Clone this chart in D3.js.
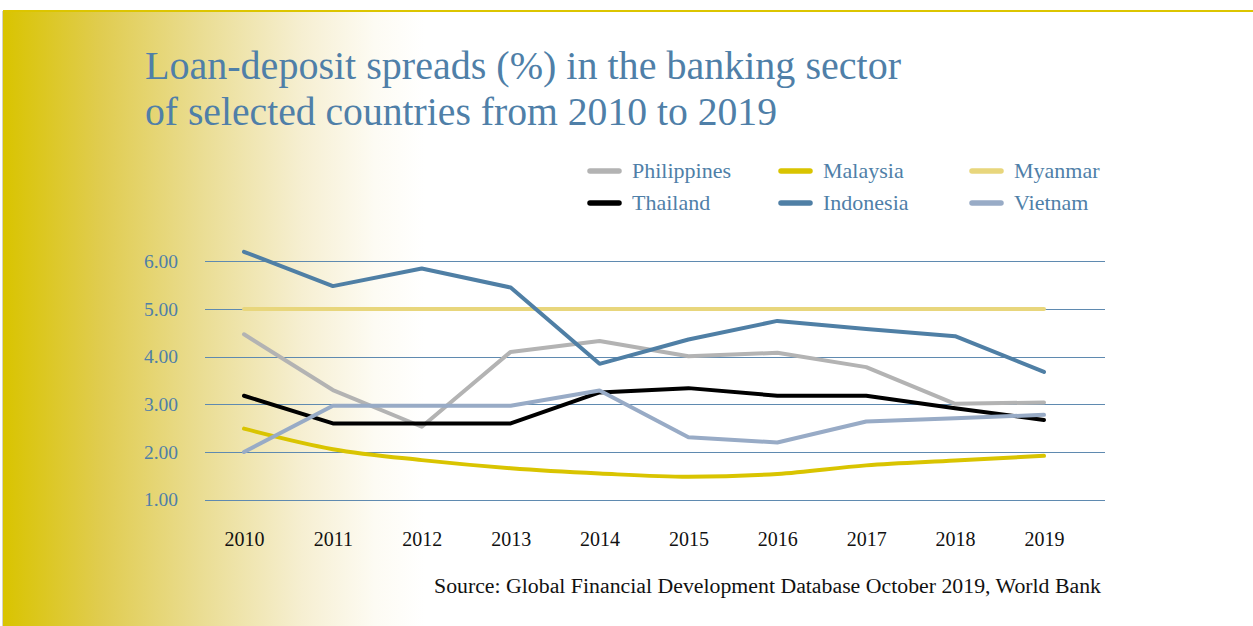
<!DOCTYPE html>
<html>
<head>
<meta charset="utf-8">
<script src="https://cdn.jsdelivr.net/npm/d3@7"></script>
<style>
  html, body { margin: 0; padding: 0; background: #ffffff; }
  svg { display: block; }
</style>
</head>
<body>
<svg id="chart" width="1253" height="626"></svg>
<script>
// Years on the horizontal axis
const years = [2010, 2011, 2012, 2013, 2014, 2015, 2016, 2017, 2018, 2019];

// Loan-deposit spread (%) per country
const philippines = [4.47, 3.30, 2.53, 4.10, 4.33, 4.01, 4.08, 3.78, 3.01, 3.04];
const malaysia    = [2.49, 2.06, 1.83, 1.66, 1.55, 1.48, 1.54, 1.72, 1.82, 1.92];
const myanmar     = [5.00, 5.00, 5.00, 5.00, 5.00, 5.00, 5.00, 5.00, 5.00, 5.00];
const thailand    = [3.18, 2.60, 2.60, 2.60, 3.25, 3.34, 3.18, 3.18, 2.92, 2.67];
const indonesia   = [6.20, 5.48, 5.85, 5.45, 3.85, 4.36, 4.75, 4.58, 4.43, 3.68];
const vietnam     = [2.00, 2.97, 2.97, 2.97, 3.29, 2.31, 2.20, 2.64, 2.71, 2.78];

const seriesNames = ["Philippines", "Malaysia", "Myanmar", "Thailand", "Indonesia", "Vietnam"];
const seriesValues = [philippines, malaysia, myanmar, thailand, indonesia, vietnam];

const yTicks = [1, 2, 3, 4, 5, 6];

const titleLines = [
  "Loan-deposit spreads (%) in the banking sector",
  "of selected countries from 2010 to 2019"
];
const sourceText = "Source: Global Financial Development Database October 2019, World Bank";

// Styling
const colors = {
  Philippines: "#b3b3b3",
  Malaysia: "#d9c400",
  Myanmar: "#e8d67c",
  Thailand: "#000000",
  Indonesia: "#4f7fa5",
  Vietnam: "#98abc6"
};
const blueText = "#4f7fa8";
const serif = "'Liberation Serif', 'Times New Roman', serif";

const svg = d3.select("#chart");

// Panel background: yellow fading to white from the left edge
const defs = svg.append("defs");
const grad = defs.append("linearGradient")
  .attr("id", "panelFade")
  .attr("gradientUnits", "userSpaceOnUse")
  .attr("x1", 3).attr("y1", 0).attr("x2", 425).attr("y2", 0);
[[0, "#d9c400"], [0.23, "#e0cc4f"], [0.47, "#eadd93"], [0.71, "#f6efd2"], [0.88, "#fdfbf3"], [1, "#ffffff"]]
  .forEach(([o, c]) => grad.append("stop").attr("offset", o).attr("stop-color", c));

svg.append("rect")
  .attr("x", 3).attr("y", 11)
  .attr("width", 1250).attr("height", 615)
  .attr("fill", "url(#panelFade)");

// thin edge on the panel's left side
svg.append("line")
  .attr("x1", 2.5).attr("x2", 2.5)
  .attr("y1", 11).attr("y2", 626)
  .attr("stroke", "#d6d3c4").attr("stroke-width", 1);

svg.append("line")
  .attr("x1", 3).attr("x2", 1253)
  .attr("y1", 11).attr("y2", 11)
  .attr("stroke", "#dcc500").attr("stroke-width", 2);

// Title
const title = svg.append("g");
titleLines.forEach((t, i) => {
  title.append("text")
    .attr("x", 145).attr("y", 79 + i * 46)
    .attr("font-family", serif)
    .attr("font-size", 40)
    .attr("fill", blueText)
    .attr("textLength", i === 0 ? 756 : 632)
    .attr("lengthAdjust", "spacingAndGlyphs")
    .text(t);
});

// Scales
const x = d3.scalePoint().domain(years).range([244, 1044]);
const y = d3.scaleLinear().domain([1, 6]).range([499.7, 261.3]);

const gridLeft = 205, gridRight = 1105;

// Horizontal gridlines with value labels
const yAxis = svg.append("g")
  .attr("transform", `translate(${gridLeft},0)`)
  .call(d3.axisLeft(y)
    .tickValues(yTicks)
    .tickSize(-(gridRight - gridLeft))
    .tickPadding(27)
    .tickFormat(d3.format(".2f")));
yAxis.select(".domain").remove();
yAxis.selectAll(".tick line")
  .attr("stroke", "#5f8ab0")
  .attr("stroke-width", 1)
  .attr("shape-rendering", "crispEdges");
yAxis.selectAll(".tick text")
  .attr("font-family", serif)
  .attr("font-size", 19.5)
  .attr("fill", blueText);

// Year labels
const xAxis = svg.append("g")
  .attr("transform", "translate(0,520)")
  .call(d3.axisBottom(x).tickSize(0).tickPadding(0));
xAxis.select(".domain").remove();
xAxis.selectAll(".tick text")
  .attr("font-family", serif)
  .attr("font-size", 20)
  .attr("fill", "#111111")
  .attr("dy", 0)
  .attr("y", 25.5);

// Series lines
const series = seriesNames.map((name, i) => ({ name, values: seriesValues[i] }));
const drawOrder = ["Philippines", "Thailand", "Malaysia", "Vietnam", "Myanmar", "Indonesia"];

const lines = svg.append("g");
drawOrder.forEach(name => {
  const s = series.find(d => d.name === name);
  const line = d3.line()
    .x((d, i) => x(years[i]))
    .y(d => y(d))
    .curve(name === "Malaysia" ? d3.curveMonotoneX : d3.curveLinear);
  lines.append("path")
    .datum(s.values)
    .attr("d", line)
    .attr("fill", "none")
    .attr("stroke", colors[name])
    .attr("stroke-width", 4)
    .attr("stroke-linejoin", "round")
    .attr("stroke-linecap", "round");
});

// Legend: three columns, two rows
const legendCols = [587, 778, 969];
const legendRows = [171, 203];
const legend = svg.append("g");
series.forEach((s, i) => {
  const cx = legendCols[i % 3];
  const cy = legendRows[Math.floor(i / 3)];
  legend.append("line")
    .attr("x1", cx + 3).attr("x2", cx + 32)
    .attr("y1", cy).attr("y2", cy)
    .attr("stroke", colors[s.name])
    .attr("stroke-width", 5.5)
    .attr("stroke-linecap", "round");
  legend.append("text")
    .attr("x", cx + 45).attr("y", cy + 7)
    .attr("font-family", serif)
    .attr("font-size", 22)
    .attr("fill", blueText)
    .text(s.name);
});

// Source note
svg.append("text")
  .attr("x", 434).attr("y", 593)
  .attr("font-family", serif)
  .attr("font-size", 20)
  .attr("fill", "#111111")
  .attr("textLength", 667)
  .attr("lengthAdjust", "spacingAndGlyphs")
  .text(sourceText);
</script>
</body>
</html>
